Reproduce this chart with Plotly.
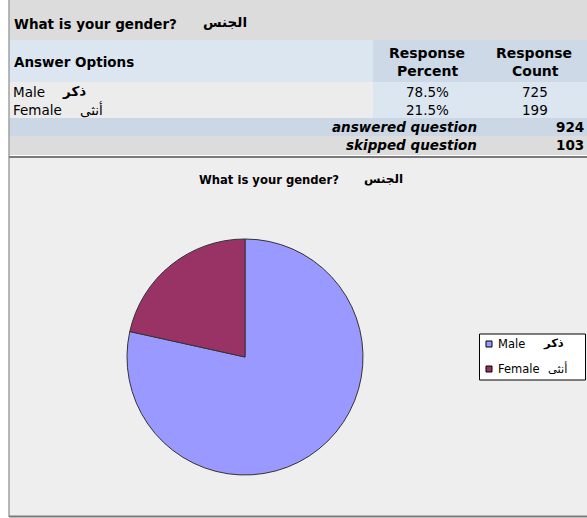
import plotly.graph_objects as go

W, H = 587, 518

question = "What is your gender?"
question_ar = "الجنس"
answer_options = ["Male", "Female"]
answer_options_ar = ["ذكر", "أنثى"]
response_percent = [78.5, 21.5]
response_count = [725, 199]
answered_question = 924
skipped_question = 103

colors = ["#9999ff", "#993366"]
FONT = "DejaVu Sans, Verdana, sans-serif"


def px(x):
    return x / W


def py(y):
    return 1 - y / H


shapes = []
annotations = []


def rect(x0, y0, x1, y1, fill, line=None, lw=0, layer="below"):
    shapes.append(dict(type="rect", xref="paper", yref="paper",
                       x0=px(x0), x1=px(x1), y0=py(y1), y1=py(y0),
                       fillcolor=fill, line=dict(color=line or fill, width=lw),
                       layer=layer))


def hline(x0, x1, y, color, w=1):
    shapes.append(dict(type="line", xref="paper", yref="paper",
                       x0=px(x0), x1=px(x1), y0=py(y), y1=py(y),
                       line=dict(color=color, width=w), layer="below"))


def vline(x, y0, y1, color, w=1):
    shapes.append(dict(type="line", xref="paper", yref="paper",
                       x0=px(x), x1=px(x), y0=py(y0), y1=py(y1),
                       line=dict(color=color, width=w), layer="below"))


def text(x, y, s, size=13.5, anchor="left", bold=False, italic=False):
    if bold:
        s = "<b>" + s + "</b>"
    if italic:
        s = "<i>" + s + "</i>"
    annotations.append(dict(xref="paper", yref="paper", x=px(x), y=py(y), text=s,
                            showarrow=False, xanchor=anchor, yanchor="middle",
                            borderpad=0,
                            font=dict(size=size, color="#000000", family=FONT)))


# Table backgrounds
rect(9, 0, W, 40, "#dcdcdc")
rect(9, 40, 373, 82, "#dce6f1")
rect(373, 40, W, 82, "#cdd9e6")
rect(9, 82, 373, 118, "#ececec")
rect(373, 82, W, 118, "#dce6f1")
rect(9, 118, W, 136, "#cbd7e5")
rect(9, 136, W, 155, "#dcdcdc")
# chart area
rect(9, 158, W, 516, "#eeeeee")

vline(9, 0, 517, "#a0a0a0", 1.5)
hline(9, W, 157, "#7a7a7a", 2)
hline(9, W, 516.5, "#7a7a7a", 2)

# Table text
text(13, 24, question, size=13.5, bold=True)
text(202, 22, question_ar, size=13.5, bold=True)
text(13, 62, "Answer Options", size=13.5, bold=True)
text(427, 53, "Response", size=14, bold=True, anchor="center")
text(427, 71, "Percent", size=14, bold=True, anchor="center")
text(534, 53, "Response", size=14, bold=True, anchor="center")
text(535, 71, "Count", size=14, bold=True, anchor="center")

row_y = [92, 110]
ar_right = [87, 104]
for i, name in enumerate(answer_options):
    text(12, row_y[i], name, size=13.5)
    text(ar_right[i], row_y[i] - 1, answer_options_ar[i], size=13.5, anchor="right", bold=(i == 0))
    text(427, row_y[i], f"{response_percent[i]:.1f}%", size=13.5, anchor="center")
    text(535, row_y[i], str(response_count[i]), size=13.5, anchor="center")

text(478, 127, "answered question", size=13.5, bold=True, italic=True, anchor="right")
text(585, 127, str(answered_question), size=13.5, bold=True, anchor="right")
text(478, 145, "skipped question", size=13.5, bold=True, italic=True, anchor="right")
text(585, 145, str(skipped_question), size=13.5, bold=True, anchor="right")

# Chart title
text(198, 180, question, size=11.6, bold=True)
text(363, 179, question_ar, size=12, bold=True, anchor="left")

# Manual legend (Excel style)
rect(479.5, 334, 585.5, 380, "#ffffff", line="#000000", lw=1, layer="above")
leg_y = [344, 369]
leg_ar_right = [565, 568]
for i, name in enumerate(answer_options):
    y = leg_y[i]
    rect(486, y - 3, 492, y + 3, colors[i], line="#000000", lw=1, layer="above")
    text(497, y, name, size=11.5)
    text(leg_ar_right[i], y - 1, answer_options_ar[i], size=11.5, anchor="right", bold=(i == 0))

cx, cy, r = 245, 357, 118
fig = go.Figure(go.Pie(
    labels=answer_options,
    values=response_count,
    sort=False,
    direction="clockwise",
    rotation=0,
    textinfo="none",
    hoverinfo="skip",
    showlegend=False,
    marker=dict(colors=colors, line=dict(color="#333333", width=1)),
    domain=dict(x=[px(cx - r), px(cx + r)], y=[py(cy + r), py(cy - r)]),
))

fig.update_layout(
    width=W, height=H,
    margin=dict(l=0, r=0, t=0, b=0),
    paper_bgcolor="#ffffff",
    plot_bgcolor="#ffffff",
    shapes=shapes,
    annotations=annotations,
    showlegend=False,
)

fig.write_html("out.html")
